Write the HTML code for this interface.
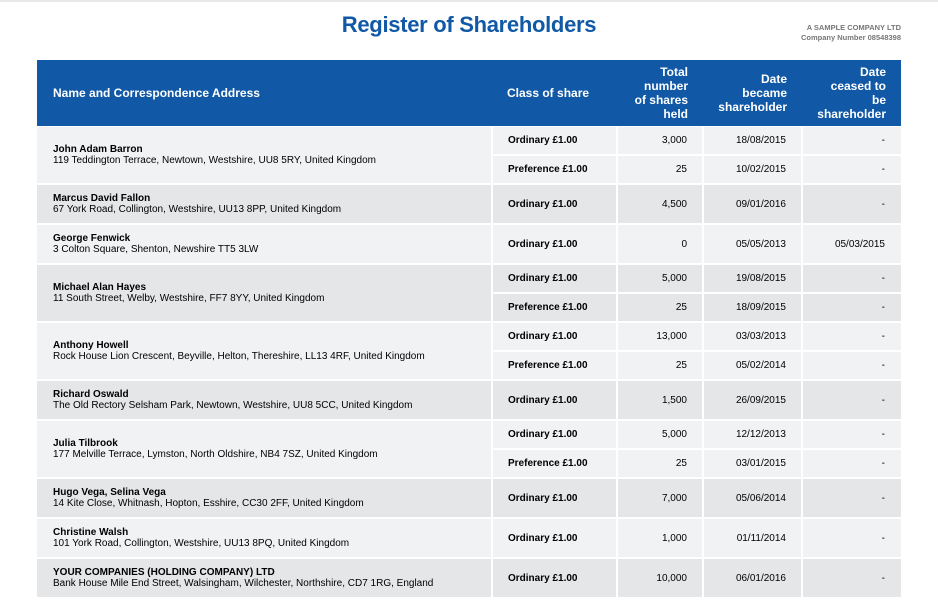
<!DOCTYPE html>
<html><head><meta charset="utf-8"><style>
body{margin:0;width:938px;height:611px;background:#fff;position:relative;overflow:hidden;font-family:"Liberation Sans",Arial,sans-serif;color:#000}
.topline{position:absolute;left:0;top:0;width:938px;height:2px;background:#e8e8e8}
h1{position:absolute;left:0;width:938px;top:12px;margin:0;text-align:center;font-size:22px;color:#1159a6;font-weight:bold;letter-spacing:-0.3px}
.co{position:absolute;right:37px;top:23px;text-align:right;font-size:7.5px;color:#777;font-weight:bold;line-height:10px}
.hdr{position:absolute;left:37px;top:60px;width:864px;height:66px;background:#1159a6;color:#fff;font-weight:bold;font-size:12px}
.hdr div{position:absolute;line-height:14px}
.c{position:absolute;box-sizing:border-box;font-size:10px;display:flex;align-items:center}
.L{background:#f1f2f4}.D{background:#e5e6e8}
.nm{padding-left:16px;flex-direction:column;align-items:flex-start;justify-content:center;line-height:11px}
.nm b{font-size:10px}
.cl{padding-left:15px;font-weight:bold}
.r{justify-content:flex-end}
</style></head><body>
<div class="topline"></div>
<h1>Register of Shareholders</h1>
<div class="co">A SAMPLE COMPANY LTD<br>Company Number 08548398</div>
<div class="hdr">
<div style="left:16px;top:26px">Name and Correspondence Address</div>
<div style="left:470px;top:26px">Class of share</div>
<div style="left:571px;width:80px;top:5px;text-align:right">Total<br>number<br>of shares<br>held</div>
<div style="left:660px;width:90px;top:12px;text-align:right">Date<br>became<br>shareholder</div>
<div style="left:760px;width:89px;top:5px;text-align:right">Date<br>ceased to<br>be<br>shareholder</div>
</div>

<div class="c nm L" style="left:37px;top:127px;width:454px;height:56px"><b>John Adam Barron</b>119 Teddington Terrace, Newtown, Westshire, UU8 5RY, United Kingdom</div>
<div class="c cl L" style="left:493px;top:127px;width:123px;height:27px">Ordinary £1.00</div>
<div class="c r L" style="left:618px;top:127px;width:84px;height:27px;padding-right:15px">3,000</div>
<div class="c r L" style="left:704px;top:127px;width:97px;height:27px;padding-right:15px">18/08/2015</div>
<div class="c r L" style="left:803px;top:127px;width:98px;height:27px;padding-right:16px">-</div>
<div class="c cl L" style="left:493px;top:156px;width:123px;height:27px">Preference £1.00</div>
<div class="c r L" style="left:618px;top:156px;width:84px;height:27px;padding-right:15px">25</div>
<div class="c r L" style="left:704px;top:156px;width:97px;height:27px;padding-right:15px">10/02/2015</div>
<div class="c r L" style="left:803px;top:156px;width:98px;height:27px;padding-right:16px">-</div>

<div class="c nm D" style="left:37px;top:185px;width:454px;height:38px"><b>Marcus David Fallon</b>67 York Road, Collington, Westshire, UU13 8PP, United Kingdom</div>
<div class="c cl D" style="left:493px;top:185px;width:123px;height:38px">Ordinary £1.00</div>
<div class="c r D" style="left:618px;top:185px;width:84px;height:38px;padding-right:15px">4,500</div>
<div class="c r D" style="left:704px;top:185px;width:97px;height:38px;padding-right:15px">09/01/2016</div>
<div class="c r D" style="left:803px;top:185px;width:98px;height:38px;padding-right:16px">-</div>

<div class="c nm L" style="left:37px;top:225px;width:454px;height:38px"><b>George Fenwick</b>3 Colton Square, Shenton, Newshire TT5 3LW</div>
<div class="c cl L" style="left:493px;top:225px;width:123px;height:38px">Ordinary £1.00</div>
<div class="c r L" style="left:618px;top:225px;width:84px;height:38px;padding-right:15px">0</div>
<div class="c r L" style="left:704px;top:225px;width:97px;height:38px;padding-right:15px">05/05/2013</div>
<div class="c r L" style="left:803px;top:225px;width:98px;height:38px;padding-right:16px">05/03/2015</div>

<div class="c nm D" style="left:37px;top:265px;width:454px;height:56px"><b>Michael Alan Hayes</b>11 South Street, Welby, Westshire, FF7 8YY, United Kingdom</div>
<div class="c cl D" style="left:493px;top:265px;width:123px;height:27px">Ordinary £1.00</div>
<div class="c r D" style="left:618px;top:265px;width:84px;height:27px;padding-right:15px">5,000</div>
<div class="c r D" style="left:704px;top:265px;width:97px;height:27px;padding-right:15px">19/08/2015</div>
<div class="c r D" style="left:803px;top:265px;width:98px;height:27px;padding-right:16px">-</div>
<div class="c cl D" style="left:493px;top:294px;width:123px;height:27px">Preference £1.00</div>
<div class="c r D" style="left:618px;top:294px;width:84px;height:27px;padding-right:15px">25</div>
<div class="c r D" style="left:704px;top:294px;width:97px;height:27px;padding-right:15px">18/09/2015</div>
<div class="c r D" style="left:803px;top:294px;width:98px;height:27px;padding-right:16px">-</div>

<div class="c nm L" style="left:37px;top:323px;width:454px;height:56px"><b>Anthony Howell</b>Rock House Lion Crescent, Beyville, Helton, Thereshire, LL13 4RF, United Kingdom</div>
<div class="c cl L" style="left:493px;top:323px;width:123px;height:27px">Ordinary £1.00</div>
<div class="c r L" style="left:618px;top:323px;width:84px;height:27px;padding-right:15px">13,000</div>
<div class="c r L" style="left:704px;top:323px;width:97px;height:27px;padding-right:15px">03/03/2013</div>
<div class="c r L" style="left:803px;top:323px;width:98px;height:27px;padding-right:16px">-</div>
<div class="c cl L" style="left:493px;top:352px;width:123px;height:27px">Preference £1.00</div>
<div class="c r L" style="left:618px;top:352px;width:84px;height:27px;padding-right:15px">25</div>
<div class="c r L" style="left:704px;top:352px;width:97px;height:27px;padding-right:15px">05/02/2014</div>
<div class="c r L" style="left:803px;top:352px;width:98px;height:27px;padding-right:16px">-</div>

<div class="c nm D" style="left:37px;top:381px;width:454px;height:38px"><b>Richard Oswald</b>The Old Rectory Selsham Park, Newtown, Westshire, UU8 5CC, United Kingdom</div>
<div class="c cl D" style="left:493px;top:381px;width:123px;height:38px">Ordinary £1.00</div>
<div class="c r D" style="left:618px;top:381px;width:84px;height:38px;padding-right:15px">1,500</div>
<div class="c r D" style="left:704px;top:381px;width:97px;height:38px;padding-right:15px">26/09/2015</div>
<div class="c r D" style="left:803px;top:381px;width:98px;height:38px;padding-right:16px">-</div>

<div class="c nm L" style="left:37px;top:421px;width:454px;height:56px"><b>Julia Tilbrook</b>177 Melville Terrace, Lymston, North Oldshire, NB4 7SZ, United Kingdom</div>
<div class="c cl L" style="left:493px;top:421px;width:123px;height:27px">Ordinary £1.00</div>
<div class="c r L" style="left:618px;top:421px;width:84px;height:27px;padding-right:15px">5,000</div>
<div class="c r L" style="left:704px;top:421px;width:97px;height:27px;padding-right:15px">12/12/2013</div>
<div class="c r L" style="left:803px;top:421px;width:98px;height:27px;padding-right:16px">-</div>
<div class="c cl L" style="left:493px;top:450px;width:123px;height:27px">Preference £1.00</div>
<div class="c r L" style="left:618px;top:450px;width:84px;height:27px;padding-right:15px">25</div>
<div class="c r L" style="left:704px;top:450px;width:97px;height:27px;padding-right:15px">03/01/2015</div>
<div class="c r L" style="left:803px;top:450px;width:98px;height:27px;padding-right:16px">-</div>

<div class="c nm D" style="left:37px;top:479px;width:454px;height:38px"><b>Hugo Vega, Selina Vega</b>14 Kite Close, Whitnash, Hopton, Esshire, CC30 2FF, United Kingdom</div>
<div class="c cl D" style="left:493px;top:479px;width:123px;height:38px">Ordinary £1.00</div>
<div class="c r D" style="left:618px;top:479px;width:84px;height:38px;padding-right:15px">7,000</div>
<div class="c r D" style="left:704px;top:479px;width:97px;height:38px;padding-right:15px">05/06/2014</div>
<div class="c r D" style="left:803px;top:479px;width:98px;height:38px;padding-right:16px">-</div>

<div class="c nm L" style="left:37px;top:519px;width:454px;height:38px"><b>Christine Walsh</b>101 York Road, Collington, Westshire, UU13 8PQ, United Kingdom</div>
<div class="c cl L" style="left:493px;top:519px;width:123px;height:38px">Ordinary £1.00</div>
<div class="c r L" style="left:618px;top:519px;width:84px;height:38px;padding-right:15px">1,000</div>
<div class="c r L" style="left:704px;top:519px;width:97px;height:38px;padding-right:15px">01/11/2014</div>
<div class="c r L" style="left:803px;top:519px;width:98px;height:38px;padding-right:16px">-</div>

<div class="c nm D" style="left:37px;top:559px;width:454px;height:38px"><b>YOUR COMPANIES (HOLDING COMPANY) LTD</b>Bank House Mile End Street, Walsingham, Wilchester, Northshire, CD7 1RG, England</div>
<div class="c cl D" style="left:493px;top:559px;width:123px;height:38px">Ordinary £1.00</div>
<div class="c r D" style="left:618px;top:559px;width:84px;height:38px;padding-right:15px">10,000</div>
<div class="c r D" style="left:704px;top:559px;width:97px;height:38px;padding-right:15px">06/01/2016</div>
<div class="c r D" style="left:803px;top:559px;width:98px;height:38px;padding-right:16px">-</div>
</body></html>
